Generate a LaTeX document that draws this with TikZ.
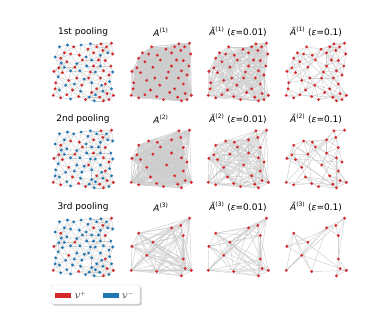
\documentclass[tikz,border=0pt]{standalone}
\usepackage{fontspec}
\setmainfont{DejaVu Sans}
\usetikzlibrary{backgrounds}
\definecolor{vred}{RGB}{214,39,40}
\definecolor{vblue}{RGB}{31,119,180}
\definecolor{egray}{RGB}{205,205,205}
% points: first 14 red in all rows, first 29 red in rows 1-2, first 47 red in row 1
\def\pts{96/2,67/18,82/14,14/27,37/42,86/31,3/49,27/64,86/70,2/89,43/91,89/86,99/89,83/98,%
79/3,30/20,44/22,11/43,67/40,83/48,17/51,59/60,14/93,54/96,77/92,92/55,49/30,72/78,33/80,%
88/8,72/8,20/18,58/12,24/33,6/68,40/60,62/50,95/40,78/60,5/78,24/88,64/84,92/96,48/72,75/30,98/20,35/8,%
5/25,12/8,25/5,47/5,62/3,90/18,78/22,55/25,20/42,30/48,45/48,56/40,70/50,78/40,98/50,10/58,22/72,36/70,%
52/62,64/68,80/72,93/66,12/80,30/95,46/82,60/92,70/88,82/82,96/78,68/98,40/36,64/30,15/35}
\foreach \x/\y [count=\k] in \pts {%
  \expandafter\xdef\csname PX\k\endcsname{\x}%
  \expandafter\xdef\csname PY\k\endcsname{\y}}
\gdef\baseedges{}
\foreach \i in {1,...,79}{%
  \pgfmathtruncatemacro\ip{\i+1}%
  \foreach \j in {\ip,...,80}{%
    \pgfmathtruncatemacro\ok{veclen(\csname PX\i\endcsname-\csname PX\j\endcsname,\csname PY\i\endcsname-\csname PY\j\endcsname)<19}%
    \ifnum\ok=1
      \ifx\baseedges\empty\xdef\baseedges{\i/\j}\else\xdef\baseedges{\baseedges,\i/\j}\fi
    \fi}}
\tikzset{
  dot/.style={circle,inner sep=0pt,minimum size=3.1pt,draw=none},
  bedge/.style={draw=egray,line width=0.45pt},
  pedge/.style={draw=egray,line width=0.45pt},
  ttl/.style={font=\fontsize{9}{10}\selectfont,inner sep=0pt}
}
\newcommand\placeall[4]{%
  \foreach \k in {1,...,80}{%
    \ifnum\k>#4\relax\def\cc{vblue}\else\def\cc{vred}\fi
    \node[dot,fill=\cc] (#1\k) at ({#2+0.62*\csname PX\k\endcsname},{#3+0.6*\csname PY\k\endcsname}) {};}}
\newcommand\placered[4]{%
  \foreach \k in {1,...,#4}{%
    \node[dot,fill=vred] (#1\k) at ({#2+0.62*\csname PX\k\endcsname},{#3+0.6*\csname PY\k\endcsname}) {};}}
\newcommand\drawpool[4]{%
  \foreach \i in {1,...,#2}{%
    \pgfmathtruncatemacro\ip{\i+1}%
    \ifnum\ip>#2\relax\else
      \foreach \j in {\ip,...,#2}{%
        \pgfmathtruncatemacro\ok{or(veclen(\csname PX\i\endcsname-\csname PX\j\endcsname,\csname PY\i\endcsname-\csname PY\j\endcsname)<#3,rnd<#4)}%
        \ifnum\ok=1 \draw[pedge] (#1\i.center) -- (#1\j.center);\fi
      }%
    \fi}}
\begin{document}
\begin{tikzpicture}[x=1pt,y=-1pt]
\useasboundingbox (0,0) rectangle (390,322);
\pgfmathsetseed{11}
\foreach \r/\Y/\N/\Ta/\Pa/\Tb/\Pb/\lab in {1/42/47/42/0.06/25/0.015/1st,2/129/29/48/0.15/30/0.05/2nd,3/217/14/58/0.55/40/0.16/3rd}{%
  % titles
  \node[ttl] (ta\r) at (83,\Y-10) {\lab\ pooling};
  \node[ttl] (tb\r) at (161,\Y-10) {\textit{A}\textsuperscript{(\r)}};
  \node[ttl] (tc\r) at (238,\Y-10) {\textit{\~A}\textsuperscript{(\r)} (\textit{ε}=0.01)};
  \node[ttl] (td\r) at (316,\Y-10) {\textit{\~A}\textsuperscript{(\r)} (\textit{ε}=0.1)};
  % nodes
  \placeall{a\r-}{52}{\Y}{\N}
  \placered{b\r-}{130}{\Y}{\N}
  \placered{c\r-}{207}{\Y}{\N}
  \placered{d\r-}{285}{\Y}{\N}
  % edges
  \begin{pgfonlayer}{background}
    \foreach \p/\q in \baseedges {\draw[bedge] (a\r-\p.center) -- (a\r-\q.center);}
    \drawpool{b\r-}{\N}{1000}{0}
    \drawpool{c\r-}{\N}{\Ta}{\Pa}
    \drawpool{d\r-}{\N}{\Tb}{\Pb}
  \end{pgfonlayer}
}
% legend
\fill[gray!45,rounded corners=1.5pt] (52.5,286.5) rectangle (141.5,305.5);
\draw[fill=white,draw=gray!30,line width=0.4pt,rounded corners=1.5pt] (51,285) rectangle (140,304);
\fill[vred] (55,293) rectangle (71,298);
\fill[vblue] (103,293) rectangle (119,298);
\node[inner sep=0pt,font=\fontsize{7}{8}\selectfont] (lp) at (80.5,295.5) {$\mathcal{V}^{+}$};
\node[inner sep=0pt,font=\fontsize{7}{8}\selectfont] (lm) at (128,295.5) {$\mathcal{V}^{-}$};
\end{tikzpicture}
\end{document}
